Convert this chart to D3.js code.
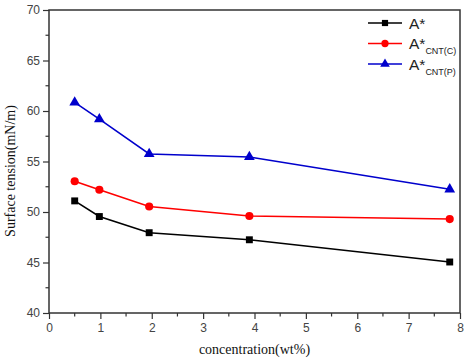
<!DOCTYPE html>
<html>
<head>
<meta charset="utf-8">
<script src="https://cdn.jsdelivr.net/npm/d3@7"></script>
<style>
  body { margin: 0; background: #fff; }
  svg { display: block; }
  .tick text { font-family: "Liberation Sans", Arial, sans-serif; font-size: 12px; fill: #444; }
  .axis-title { font-family: "Liberation Serif", "Times New Roman", serif; font-size: 14px; fill: #111; }
</style>
</head>
<body>
<div id="chart"></div>
<script>
// data
let concentration = [0.5, 0.98, 1.95, 3.9, 7.8];
let seriesNames = ["A*", "A*CNT(C)", "A*CNT(P)"];
let valuesA = [51.1, 49.55, 47.95, 47.25, 45.05];
let valuesC = [53.05, 52.2, 50.55, 49.6, 49.3];
let valuesP = [60.85, 59.2, 55.75, 55.45, 52.25];
let xTicks = [0, 1, 2, 3, 4, 5, 6, 7, 8];
let yTicks = [40, 45, 50, 55, 60, 65, 70];

let series = [
	{ name: "A*", sub: "", values: valuesA, color: "#000000", symbol: d3.symbolSquare, size: 48 },
	{ name: "A*", sub: "CNT(C)", values: valuesC, color: "#ff0000", symbol: d3.symbolCircle, size: 52 },
	{ name: "A*", sub: "CNT(P)", values: valuesP, color: "#0000cc", symbol: d3.symbolTriangle, size: 50 }
];

let margin = { top: 10, right: 4, bottom: 45, left: 49 };
let width = 464 - margin.left - margin.right;
let height = 358 - margin.top - margin.bottom;

let svg = d3.select("#chart").append("svg")
	.attr("width", 464)
	.attr("height", 358);

let g = svg.append("g")
	.attr("transform", "translate(" + margin.left + "," + margin.top + ")");

let x = d3.scaleLinear().domain([0, 8]).range([0, width]);
let y = d3.scaleLinear().domain([40, 70]).range([height, 0]);

// minor ticks
let xMinor = d3.range(0.5, 8, 1);
let yMinor = d3.range(42.5, 70, 5);

g.selectAll(".xminor").data(xMinor).enter().append("line")
	.attr("x1", d => x(d)).attr("x2", d => x(d))
	.attr("y1", height).attr("y2", height + 3.5)
	.attr("stroke", "#333").attr("stroke-width", 1.2);

g.selectAll(".yminor").data(yMinor).enter().append("line")
	.attr("x1", -3.5).attr("x2", 0)
	.attr("y1", d => y(d)).attr("y2", d => y(d))
	.attr("stroke", "#333").attr("stroke-width", 1.2);

// axes
let xAxis = d3.axisBottom(x).tickValues(xTicks).tickSize(6).tickPadding(4).tickFormat(d3.format("d"));
let yAxis = d3.axisLeft(y).tickValues(yTicks).tickSize(6).tickPadding(3).tickFormat(d3.format("d"));

g.append("g")
	.attr("transform", "translate(0," + height + ")")
	.call(xAxis)
	.call(a => a.select(".domain").remove())
	.call(a => a.selectAll(".tick line").attr("stroke", "#333").attr("stroke-width", 1.2));

g.append("g")
	.call(yAxis)
	.call(a => a.select(".domain").remove())
	.call(a => a.selectAll(".tick line").attr("stroke", "#333").attr("stroke-width", 1.2));

// frame
g.append("rect")
	.attr("width", width)
	.attr("height", height)
	.attr("fill", "none")
	.attr("stroke", "#333")
	.attr("stroke-width", 1.5);

// lines and markers
let line = d3.line()
	.x((d, i) => x(concentration[i]))
	.y(d => y(d));

series.forEach(s => {
	g.append("path")
		.datum(s.values)
		.attr("fill", "none")
		.attr("stroke", s.color)
		.attr("stroke-width", 1.6)
		.attr("d", line);

	g.selectAll(null).data(s.values).enter().append("path")
		.attr("d", d3.symbol().type(s.symbol).size(s.size))
		.attr("transform", (d, i) => "translate(" + x(concentration[i]) + "," + y(d) + ")")
		.attr("fill", s.color);
});

// legend
let legend = g.append("g").attr("transform", "translate(" + (368 - margin.left) + "," + (23 - margin.top) + ")");
series.forEach((s, i) => {
	let row = legend.append("g").attr("transform", "translate(0," + (i * 20.5) + ")");
	row.append("line")
		.attr("x1", 0).attr("x2", 34)
		.attr("stroke", s.color).attr("stroke-width", 1.6);
	row.append("path")
		.attr("d", d3.symbol().type(s.symbol).size(s.size * 0.8))
		.attr("transform", "translate(17,0)")
		.attr("fill", s.color);
	let t = row.append("text")
		.attr("x", 41)
		.attr("y", 5.5)
		.style("font-family", "'Liberation Sans', Arial, sans-serif")
		.style("font-size", "15.5px")
		.attr("fill", "#222");
	t.append("tspan").text(s.name);
	if (s.sub) {
		t.append("tspan")
			.attr("dy", 5)
			.style("font-size", "9px")
			.text(s.sub);
	}
});

// axis titles
g.append("text")
	.attr("class", "axis-title")
	.attr("text-anchor", "middle")
	.attr("x", x(4))
	.attr("y", height + 41)
	.text("concentration(wt%)");

g.append("text")
	.attr("class", "axis-title")
	.attr("text-anchor", "middle")
	.attr("transform", "translate(" + (-34) + "," + (171 - margin.top) + ") rotate(-90)")
	.text("Surface tension(mN/m)");
</script>
</body>
</html>
